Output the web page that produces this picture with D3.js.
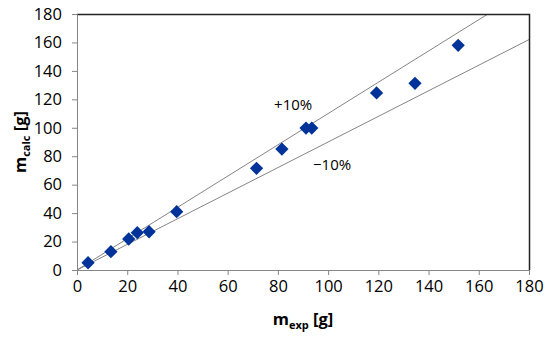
<!DOCTYPE html>
<html><head><meta charset="utf-8">
<script src="https://cdn.jsdelivr.net/npm/d3@7"></script>
<style>body{margin:0;background:#fff;}svg{display:block;font-family:"Open Sans","Liberation Sans",sans-serif;}</style>
</head><body><svg id="c" width="550" height="341"></svg>
<script>
const mExp  = [4.4, 13.5, 20.6, 24.0, 28.7, 39.7, 71.5, 81.6, 91.2, 93.5, 119.3, 134.6, 151.8];
const mCalc = [5.1, 12.9, 21.8, 26.2, 26.9, 41.0, 71.5, 85.0, 99.8, 99.8, 124.5, 131.3, 158.0];
const xTicks = [0,20,40,60,80,100,120,140,160,180];
const yTicks = [0,20,40,60,80,100,120,140,160,180];
const bandFactors = [1.1, 0.9];
const bandLabels = ["+10%", "\u221210%"];

const svg = d3.select("#c");
const L=77, R=529, T=14, B=270;
const x = d3.scaleLinear().domain([0,180]).range([L,R]);
const y = d3.scaleLinear().domain([0,180]).range([B,T]);

svg.append("clipPath").attr("id","clp").append("rect").attr("x",L).attr("y",T).attr("width",R-L).attr("height",B-T);
const g = svg.append("g").attr("clip-path","url(#clp)");
bandFactors.forEach(f=>{
  g.append("line").attr("x1",x(0)).attr("y1",y(0)).attr("x2",x(200)).attr("y2",y(200*f))
   .attr("stroke","#777").attr("stroke-width",0.9);
});

svg.append("path").attr("d",`M${L},${T+0.5}H${R+0.5}V${B}`).attr("fill","none").attr("stroke","#222").attr("stroke-width",1.5);

const xa = svg.append("g").attr("transform",`translate(0,${B})`)
  .call(d3.axisBottom(x).tickValues(xTicks).tickSize(5).tickPadding(5));
const ya = svg.append("g").attr("transform",`translate(${L},0)`)
  .call(d3.axisLeft(y).tickValues(yTicks).tickSize(5).tickPadding(10));
[xa,ya].forEach(a=>{
  a.attr("font-size",null).attr("font-family",null);
  a.selectAll("path,line").attr("stroke","#868686").attr("stroke-width",1);
  a.selectAll("text").attr("fill","#000").style("font-size","16.5px");
});

const sym = d3.symbol().type(d3.symbolSquare).size(88);
svg.append("g").selectAll("path").data(mExp).join("path")
  .attr("d",sym).attr("fill","#003399")
  .attr("transform",(d,i)=>`translate(${x(d)},${y(mCalc[i])}) rotate(45)`);

svg.append("text").attr("x",x(78.5)).attr("y",y(112.5)).text(bandLabels[0]).style("font-size","15px");
svg.append("text").attr("x",x(94)).attr("y",y(70.3)).text(bandLabels[1]).style("font-size","15px");

const xt = svg.append("text").attr("x",(L+R)/2).attr("y",325).attr("text-anchor","middle").attr("font-weight","bold").style("font-size","16.5px");
xt.append("tspan").text("m");
xt.append("tspan").attr("dy",4).style("font-size","11px").text("exp");
xt.append("tspan").attr("dy",-4).text(" [g]");

const yt = svg.append("text").attr("transform",`translate(26,${(T+B)/2}) rotate(-90)`).attr("text-anchor","middle").attr("font-weight","bold").style("font-size","16.5px");
yt.append("tspan").text("m");
yt.append("tspan").attr("dy",4).style("font-size","11px").text("calc");
yt.append("tspan").attr("dy",-4).text(" [g]");
</script></body></html>
